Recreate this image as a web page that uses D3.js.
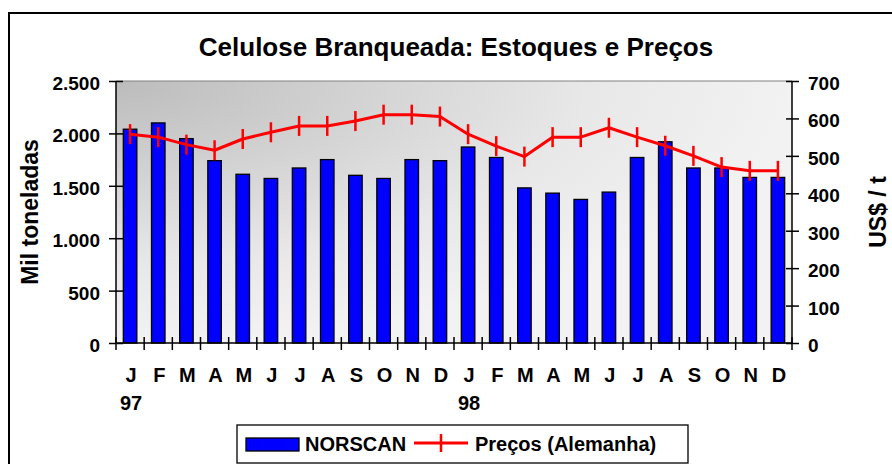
<!DOCTYPE html>
<html>
<head>
<meta charset="utf-8">
<script src="https://cdn.jsdelivr.net/npm/d3@7"></script>
<style>
  body { margin: 0; background: #fff; }
  text { font-family: "Liberation Sans", Arial, sans-serif; font-weight: bold; fill: #000; }
</style>
</head>
<body>
<svg id="chart"></svg>
<script>
// months, 1997 and 1998
var months = ["J","F","M","A","M","J","J","A","S","O","N","D",
              "J","F","M","A","M","J","J","A","S","O","N","D"];
var years = [{ label: "97", index: 0 }, { label: "98", index: 12 }];

// NORSCAN stocks (mil toneladas)
var stocks = [2040, 2100, 1950, 1740, 1610, 1570, 1670, 1750, 1600, 1570, 1750, 1740,
              1870, 1770, 1480, 1430, 1370, 1440, 1770, 1920, 1670, 1670, 1580, 1580];
// pulp prices in Germany (US$ / t)
var prices = [558, 550, 530, 515, 545, 563, 580, 580, 593, 610, 610, 605,
              558, 526, 498, 550, 550, 575, 550, 527, 500, 470, 460, 460];

var leftTicks = [0, 500, 1000, 1500, 2000, 2500];
var rightTicks = [0, 100, 200, 300, 400, 500, 600, 700];

var width = 892;
var height = 464;
var margin = { top: 81, right: 100, bottom: 121, left: 116 };
var plotW = width - margin.left - margin.right;
var plotH = height - margin.top - margin.bottom;

const svg = d3.select("#chart")
  .attr("width", width)
  .attr("height", height);

// outer frame (runs off the right and bottom edge)
svg.append("rect")
  .attr("x", 9).attr("y", 13)
  .attr("width", 900).attr("height", 470)
  .attr("fill", "#fff")
  .attr("stroke", "#000")
  .attr("stroke-width", 2);

svg.append("text")
  .attr("x", 456)
  .attr("y", 56)
  .attr("text-anchor", "middle")
  .style("font-size", "26px")
  .text("Celulose Branqueada: Estoques e Preços");

const defs = svg.append("defs");
const grad = defs.append("radialGradient")
  .attr("id", "bg")
  .attr("cx", 0).attr("cy", 0).attr("fx", 0).attr("fy", 0).attr("r", 1);
grad.append("stop").attr("offset", "0%").attr("stop-color", "#bcbcbc");
grad.append("stop").attr("offset", "70%").attr("stop-color", "#e8e8e8");
grad.append("stop").attr("offset", "100%").attr("stop-color", "#f2f2f2");

const g = svg.append("g")
  .attr("transform", `translate(${margin.left},${margin.top})`);

g.append("rect")
  .attr("width", plotW)
  .attr("height", plotH)
  .attr("fill", "url(#bg)");

g.append("line")
  .attr("x1", 0).attr("x2", plotW)
  .attr("y1", 0).attr("y2", 0)
  .attr("stroke", "#808080")
  .attr("stroke-width", 1);

// scales
const x = d3.scaleBand()
  .domain(months.map((m, i) => i))
  .range([0, plotW])
  .paddingInner(0.52)
  .paddingOuter(0.26);

const yLeft = d3.scaleLinear().domain([0, 2500]).range([plotH, 0]);
const yRight = d3.scaleLinear().domain([0, 700]).range([plotH, 0]);

// bars
g.selectAll(".bar")
  .data(stocks)
  .enter()
  .append("rect")
  .attr("class", "bar")
  .attr("x", (d, i) => x(i))
  .attr("y", d => yLeft(d))
  .attr("width", x.bandwidth())
  .attr("height", d => plotH - yLeft(d))
  .attr("fill", "#0000ff")
  .attr("stroke", "#000")
  .attr("stroke-width", 1.3);

// price line
const cx = i => x(i) + x.bandwidth() / 2;
const line = d3.line()
  .x((d, i) => cx(i))
  .y(d => yRight(d));

g.append("path")
  .datum(prices)
  .attr("d", line)
  .attr("fill", "none")
  .attr("stroke", "#ff0000")
  .attr("stroke-width", 3)
  .attr("stroke-linejoin", "round");

g.selectAll(".mark")
  .data(prices)
  .enter()
  .append("line")
  .attr("class", "mark")
  .attr("x1", (d, i) => cx(i)).attr("x2", (d, i) => cx(i))
  .attr("y1", d => yRight(d) - 10)
  .attr("y2", d => yRight(d) + 10)
  .attr("stroke", "#ff0000")
  .attr("stroke-width", 2.5);

// left axis
const axisL = g.append("g")
  .call(d3.axisLeft(yLeft).tickValues(leftTicks)
    .tickFormat(d => d3.format(",")(d).replace(",", "."))
    .tickSize(6).tickPadding(10));
axisL.selectAll("line").attr("x2", -7).attr("x1", 7).attr("stroke-width", 1.5);
axisL.selectAll("text").attr("dy", "0.45em").style("font-size", "19px");
axisL.select(".domain").attr("d", `M0,0V${plotH}`).attr("stroke-width", 1.5);

// right axis
const axisR = g.append("g")
  .attr("transform", `translate(${plotW},0)`)
  .call(d3.axisRight(yRight).tickValues(rightTicks).tickSize(7).tickPadding(10));
axisR.selectAll("line").attr("x1", -6).attr("stroke-width", 1.5);
axisR.selectAll("text").attr("dy", "0.45em").attr("x", 16).style("font-size", "19px");
axisR.select(".domain").attr("d", `M0,0V${plotH}`).attr("stroke-width", 1.5);

// x axis
g.append("line")
  .attr("x1", 0).attr("x2", plotW)
  .attr("y1", plotH).attr("y2", plotH)
  .attr("stroke", "#000")
  .attr("stroke-width", 1.5);

g.selectAll(".xtick")
  .data(d3.range(months.length + 1))
  .enter()
  .append("line")
  .attr("class", "xtick")
  .attr("x1", i => i * x.step()).attr("x2", i => i * x.step())
  .attr("y1", plotH - 6).attr("y2", plotH + 7)
  .attr("stroke", "#000")
  .attr("stroke-width", 1.5);

g.selectAll(".month")
  .data(months)
  .enter()
  .append("text")
  .attr("class", "month")
  .attr("x", (d, i) => cx(i) + 1)
  .attr("y", plotH + 39)
  .attr("text-anchor", "middle")
  .style("font-size", "20px")
  .text(d => d);

g.selectAll(".year")
  .data(years)
  .enter()
  .append("text")
  .attr("class", "year")
  .attr("x", d => cx(d.index) + 1)
  .attr("y", plotH + 67)
  .attr("text-anchor", "middle")
  .style("font-size", "20px")
  .text(d => d.label);

// axis titles
svg.append("text")
  .attr("transform", `translate(38,${margin.top + plotH / 2}) rotate(-90)`)
  .attr("text-anchor", "middle")
  .style("font-size", "23px")
  .text("Mil toneladas");

svg.append("text")
  .attr("transform", `translate(886,${margin.top + plotH / 2}) rotate(-90)`)
  .attr("text-anchor", "middle")
  .style("font-size", "23px")
  .text("US$ / t");

// legend
const legend = svg.append("g");
legend.append("rect")
  .attr("x", 237).attr("y", 425)
  .attr("width", 451).attr("height", 38)
  .attr("fill", "#fff")
  .attr("stroke", "#000")
  .attr("stroke-width", 1.3);
legend.append("rect")
  .attr("x", 246).attr("y", 438)
  .attr("width", 53).attr("height", 13)
  .attr("fill", "#0000ff")
  .attr("stroke", "#000")
  .attr("stroke-width", 1.3);
legend.append("text")
  .attr("x", 305).attr("y", 451)
  .style("font-size", "20px")
  .text("NORSCAN");
legend.append("line")
  .attr("x1", 414).attr("x2", 468)
  .attr("y1", 443).attr("y2", 443)
  .attr("stroke", "#ff0000")
  .attr("stroke-width", 3);
legend.append("line")
  .attr("x1", 441).attr("x2", 441)
  .attr("y1", 434).attr("y2", 452)
  .attr("stroke", "#ff0000")
  .attr("stroke-width", 2.5);
legend.append("text")
  .attr("x", 475).attr("y", 451)
  .style("font-size", "20px")
  .text("Preços (Alemanha)");
</script>
</body>
</html>
